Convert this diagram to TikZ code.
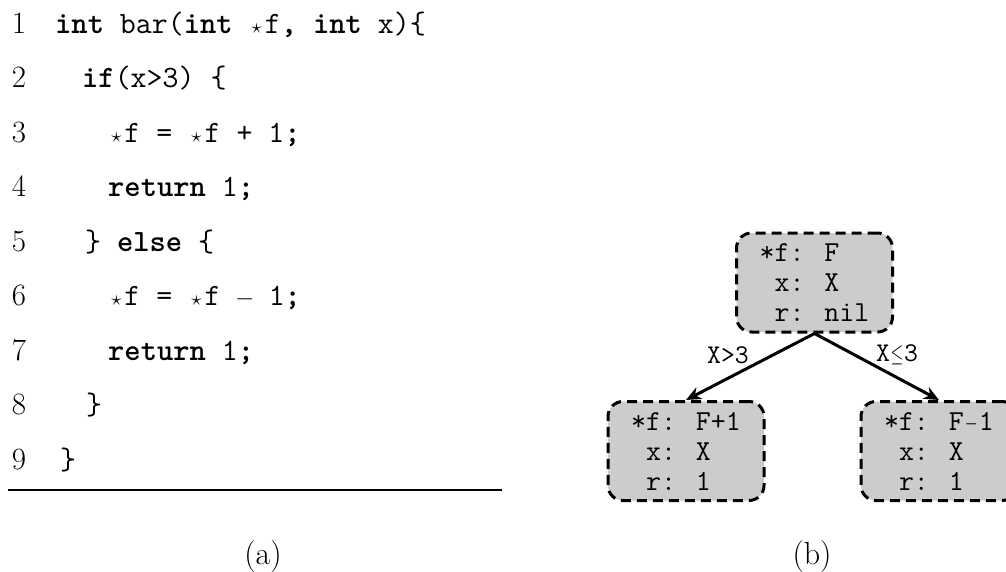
\documentclass[tikz,border=0pt]{standalone}
\usepackage{fontspec}
\usetikzlibrary{arrows.meta}
\definecolor{boxgray}{RGB}{204,204,204}
\newcommand{\st}{\makebox[0.525em]{$\scriptstyle\star$}}
\newcommand{\mminus}{\makebox[0.525em]{\scalebox{0.66}[1]{$-$}}}
\newcommand{\cminus}{\makebox[0.525em]{$-$}}
\newcommand{\mle}{\makebox[0.525em]{\scalebox{0.66}[1]{$\le$}}}
\tikzset{
  lnum/.style={font=\fontsize{31}{31}\selectfont, anchor=base, inner sep=0pt},
  codeline/.style={font=\fontsize{31}{31}\selectfont\ttfamily, anchor=base west, inner sep=0pt},
  statebox/.style={draw, line width=3pt, dash pattern=on 10pt off 6pt, rounded corners=15pt,
    fill=boxgray, font=\fontsize{29}{30}\selectfont\ttfamily, align=left,
    minimum width=156pt, minimum height=99pt, inner sep=0pt},
  edgelabel/.style={font=\fontsize{27}{27}\selectfont\ttfamily, inner sep=0pt},
  caption/.style={font=\fontsize{32}{32}\selectfont, anchor=base, inner sep=0pt},
  trans/.style={line width=3pt, -{Stealth[length=15pt,width=13pt]}}
}
\begin{document}
\begin{tikzpicture}[x=1pt,y=-1pt]
\clip (0,0) rectangle (1006,571);
% line numbers
\foreach \i in {1,...,9}{
  \node[lnum] (n\i) at (19,{33+(\i-1)*54.5}) {\i};
}
% code lines
\node[codeline] (c1) at (55,33) {\textbf{int} bar(\textbf{int} \st f\textbf{,} \textbf{int} x)\{};
\node[codeline] (c2) at (82,87.5) {\textbf{if}(x>3) \{};
\node[codeline] (c3) at (108,142) {\st f = \st f + 1\textbf{;}};
\node[codeline] (c4) at (108,196.5) {\textbf{return} 1\textbf{;}};
\node[codeline] (c5) at (85,251) {\} \textbf{else} \{};
\node[codeline] (c6) at (108,305.5) {\st f = \st f \cminus\ 1\textbf{;}};
\node[codeline] (c7) at (108,360) {\textbf{return} 1\textbf{;}};
\node[codeline] (c8) at (86,414.5) {\}};
\node[codeline] (c9) at (60,469) {\}};
% rule
\draw[line width=1.2pt] (8,490) -- (502,490);
% captions
\node[caption] (capa) at (263,564) {(a)};
\node[caption] (capb) at (812,564) {(b)};
% state tree
\node[statebox] (top) at (814.5,282.5) {*f: F\\\phantom{*}x: X\\\phantom{*}r: nil};
\node[statebox] (lft) at (686,451) {*f: F+1\\\phantom{*}x: X\\\phantom{*}r: 1};
\node[statebox] (rgt) at (939,451) {*f: F\mminus 1\\\phantom{*}x: X\\\phantom{*}r: 1};
\draw[trans] (top.south) -- (lft.north);
\draw[trans] (top.south) -- (rgt.north);
\node[edgelabel] (l1) at (728,355) {X>3};
\node[edgelabel] (l2) at (897,355) {X\mle 3};
\end{tikzpicture}
\end{document}
